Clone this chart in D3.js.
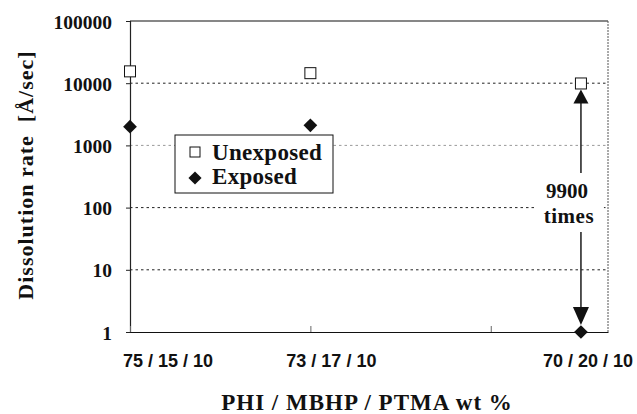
<!DOCTYPE html>
<html>
<head>
<meta charset="utf-8">
<script src="https://cdn.jsdelivr.net/npm/d3@7"></script>
<style>
  html, body { margin: 0; padding: 0; background: #fff; }
  svg { display: block; }
  .serif { font-family: "Liberation Serif", "Times New Roman", serif; font-weight: bold; fill: #111; }
  .sans { font-family: "Liberation Sans", Arial, sans-serif; fill: #111; }
</style>
</head>
<body>
<svg id="chart" width="637" height="414"></svg>
<script>
// Composition, PHI wt % (numeric x position) and its full label
const phiWt = [75, 73, 70];
const compositionLabels = ["75 / 15 / 10", "73 / 17 / 10", "70 / 20 / 10"];

// Dissolution rate, Å/sec
const unexposed = [15500, 14500, 9900];
const exposed = [2000, 2100, 1];

const yTicks = [1, 10, 100, 1000, 10000, 100000];
const gridValues = [10, 100, 1000, 10000];
const xTickValues = [75, 73, 71];
const seriesNames = ["Unexposed", "Exposed"];

(function draw() {
  const svg = d3.select("#chart");
  const plotL = 130, plotR = 608, plotT = 21, plotB = 332;

  const x = d3.scaleLinear().domain([75, 69.7]).range([plotL, plotR]);
  const y = d3.scaleLog().domain([1, 100000]).range([plotB, plotT]);

  // Horizontal dotted gridlines
  svg.append("g").selectAll("line").data(gridValues).join("line")
    .attr("x1", plotL).attr("x2", plotR)
    .attr("y1", d => y(d)).attr("y2", d => y(d))
    .attr("stroke", d => d === 1000 ? "#9a9a9a" : "#222")
    .attr("stroke-width", 1)
    .attr("stroke-dasharray", "2.5,3");

  // Frame: solid top, dotted right
  svg.append("line").attr("x1", plotL).attr("x2", plotR).attr("y1", plotT).attr("y2", plotT)
    .attr("stroke", "#111").attr("stroke-width", 1.2);
  svg.append("line").attr("x1", plotR).attr("x2", plotR).attr("y1", plotT).attr("y2", plotB)
    .attr("stroke", "#555").attr("stroke-width", 1).attr("stroke-dasharray", "2,1");

  // Y axis (log)
  const yAxis = d3.axisLeft(y).tickValues(yTicks).tickSize(4).tickFormat(d3.format("d"));
  const gy = svg.append("g").attr("transform", `translate(${plotL},0)`).call(yAxis);
  gy.select(".domain").attr("stroke", "#222").attr("stroke-width", 1.2);
  gy.selectAll(".tick line").attr("stroke", "#222");
  gy.selectAll(".tick text")
    .attr("class", "serif")
    .attr("x", -18)
    .attr("dy", "0.36em")
    .style("font-size", "19.5px");

  // X axis: baseline with small inward ticks
  const xAxis = d3.axisBottom(x).tickValues(xTickValues).tickSize(-6).tickSizeOuter(0).tickFormat("");
  const gx = svg.append("g").attr("transform", `translate(0,${plotB})`).call(xAxis);
  gx.select(".domain").attr("stroke", "#111").attr("stroke-width", 1.2);
  gx.selectAll(".tick line").attr("stroke", "#666");

  // Composition labels below the axis
  const labelNudge = [38, 21, 7];
  svg.append("g").selectAll("text").data(compositionLabels).join("text")
    .attr("class", "sans")
    .attr("x", (d, i) => x(phiWt[i]) + labelNudge[i])
    .attr("y", 367)
    .attr("text-anchor", "middle")
    .style("font-size", "18px")
    .style("font-weight", "bold")
    .style("white-space", "pre")
    .text(d => d);

  // Axis titles
  svg.append("text").attr("class", "serif")
    .attr("x", 367).attr("y", 410)
    .attr("text-anchor", "middle")
    .style("font-size", "23px").style("letter-spacing", "1px")
    .text("PHI / MBHP / PTMA wt %");

  svg.append("text").attr("class", "serif")
    .attr("transform", "translate(33,175) rotate(-90)")
    .attr("text-anchor", "middle")
    .style("font-size", "22px").style("letter-spacing", "1px")
    .style("white-space", "pre")
    .text("Dissolution rate  [Å/sec]");

  // Ratio annotation between the two series at the last composition
  const last = phiWt.length - 1;
  const ax = x(phiWt[last]);
  const yTopArrow = y(unexposed[last]) + 6;
  const yBotArrow = y(exposed[last]) - 7;
  const ratio = Math.round(unexposed[last] / exposed[last]);
  const arrowColor = "#2a2a2a";

  svg.append("line").attr("x1", ax).attr("x2", ax)
    .attr("y1", yTopArrow + 12).attr("y2", yBotArrow - 14)
    .attr("stroke", arrowColor).attr("stroke-width", 1.6);
  svg.append("path")
    .attr("d", `M${ax},${yTopArrow} L${ax - 7.5},${yTopArrow + 14} L${ax + 7.5},${yTopArrow + 14} Z`)
    .attr("fill", "#111");
  svg.append("path")
    .attr("d", `M${ax},${yBotArrow} L${ax - 8},${yBotArrow - 18} L${ax + 8},${yBotArrow - 18} Z`)
    .attr("fill", "#111");

  svg.append("rect").attr("x", ax - 45).attr("y", 173).attr("width", 68).attr("height", 59)
    .attr("fill", "#fff");
  svg.append("text").attr("class", "serif")
    .attr("x", ax - 14).attr("y", 198).attr("text-anchor", "middle")
    .style("font-size", "21px")
    .text(d3.format("d")(ratio));
  svg.append("text").attr("class", "serif")
    .attr("x", ax - 12).attr("y", 223).attr("text-anchor", "middle")
    .style("font-size", "21px").style("letter-spacing", "0.5px")
    .text("times");

  // Markers
  const sq = 11;
  svg.append("g").selectAll("rect").data(unexposed).join("rect")
    .attr("x", (d, i) => x(phiWt[i]) - sq / 2)
    .attr("y", d => y(d) - sq / 2)
    .attr("width", sq).attr("height", sq)
    .attr("fill", "#fff").attr("stroke", "#111").attr("stroke-width", 1);

  const diamond = d3.symbol().type(d3.symbolDiamond2).size(120);
  svg.append("g").selectAll("path").data(exposed).join("path")
    .attr("transform", (d, i) => `translate(${x(phiWt[i])},${y(d)})`)
    .attr("d", diamond)
    .attr("fill", "#111");

  // Legend
  const lg = svg.append("g").attr("transform", "translate(175,135)");
  lg.append("rect").attr("width", 158).attr("height", 58)
    .attr("fill", "#fff").attr("stroke", "#111").attr("stroke-width", 1);
  lg.append("rect").attr("x", 15).attr("y", 12).attr("width", 10).attr("height", 10)
    .attr("fill", "#fff").attr("stroke", "#111");
  lg.append("path").attr("transform", "translate(20,43)")
    .attr("d", d3.symbol().type(d3.symbolDiamond2).size(110)).attr("fill", "#111");
  lg.selectAll("text.entry").data(seriesNames).join("text")
    .attr("class", "serif entry")
    .attr("x", 37).attr("y", (d, i) => 25 + i * 24)
    .style("font-size", "23px").style("letter-spacing", "0.3px")
    .text(d => d);
})();
</script>
</body>
</html>
